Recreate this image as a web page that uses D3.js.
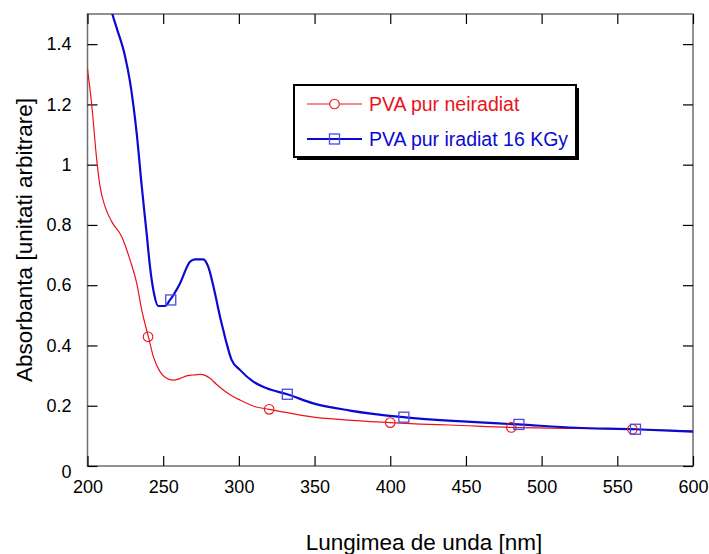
<!DOCTYPE html>
<html>
<head>
<meta charset="utf-8">
<script src="https://cdn.jsdelivr.net/npm/d3@7"></script>
<style>
  html, body { margin: 0; padding: 0; background: #fff; }
  svg { display: block; font-family: "Liberation Sans", Arial, sans-serif; }
</style>
</head>
<body>
<svg id="chart" width="709" height="554"></svg>
<script>
// Absorption spectra of PVA films (wavelength nm, absorbance a.u.)
const seriesNames = ["PVA pur neiradiat", "PVA pur iradiat 16 KGy"];
const seriesColors = ["#e8141a", "#0a0ad0"];

const wavelengthRed = [200, 202.8, 206.1, 208.3, 211.6, 216, 222.6, 228.1, 232.5, 235.8, 240.2, 243.5, 247.9, 252, 256.5, 261, 265.5, 270, 274.3, 278, 280.9, 285, 289.7, 295, 300.7, 309.5, 319.9, 333, 347, 370, 399.8, 420, 439.4, 479.5, 520, 560.5, 600];
const absorbRed = [1.318, 1.198, 1.016, 0.927, 0.861, 0.811, 0.761, 0.684, 0.607, 0.518, 0.429, 0.363, 0.313, 0.292, 0.285, 0.29, 0.299, 0.302, 0.304, 0.3, 0.291, 0.272, 0.252, 0.234, 0.219, 0.199, 0.188, 0.176, 0.164, 0.153, 0.144, 0.139, 0.136, 0.128, 0.125, 0.122, 0.117];

const wavelengthBlue = [208, 212, 216.4, 219.3, 224.8, 228.1, 232.5, 235.8, 239.1, 241.3, 243.5, 246.8, 251.2, 254.5, 261.1, 267.7, 271, 276.5, 279.8, 284.2, 287.5, 289.7, 291.9, 295.2, 300.7, 309.5, 318.4, 332, 349.1, 373.4, 408.6, 450.5, 484.6, 523, 561.6, 600];
const absorbBlue = [1.68, 1.59, 1.5, 1.453, 1.36, 1.275, 1.104, 0.93, 0.77, 0.661, 0.584, 0.531, 0.531, 0.551, 0.606, 0.678, 0.686, 0.686, 0.661, 0.573, 0.496, 0.451, 0.407, 0.352, 0.319, 0.28, 0.258, 0.238, 0.208, 0.184, 0.162, 0.147, 0.138, 0.127, 0.122, 0.114];

// symbol positions along each curve
const markerWlRed = [240, 320, 400, 480, 560];
const markerAbsRed = [0.429, 0.188, 0.144, 0.128, 0.122];
const markerWlBlue = [255, 332, 409, 485, 562];
const markerAbsBlue = [0.551, 0.238, 0.162, 0.138, 0.122];

const xTicks = [200, 250, 300, 350, 400, 450, 500, 550, 600];
const yTicks = [0, 0.2, 0.4, 0.6, 0.8, 1, 1.2, 1.4];

(function drawChart() {
  const svg = d3.select("#chart");
  const plotLeft = 87.5, plotRight = 693, plotTop = 14, plotBottom = 466;

  const x = d3.scaleLinear().domain([200, 600]).range([plotLeft, plotRight]);
  const y = d3.scaleLinear().domain([0, 1.5]).range([plotBottom, plotTop]);

  svg.append("defs").append("clipPath").attr("id", "plot-clip")
    .append("rect").attr("x", plotLeft).attr("y", plotTop)
    .attr("width", plotRight - plotLeft).attr("height", plotBottom - plotTop);

  // frame
  svg.append("rect")
    .attr("x", plotLeft).attr("y", plotTop)
    .attr("width", plotRight - plotLeft).attr("height", plotBottom - plotTop)
    .attr("fill", "none").attr("stroke", "#6e6e6e").attr("stroke-width", 1.5);

  // inward ticks on all four sides
  const tickLen = 10;
  const axisBottom = d3.axisBottom(x).tickValues(xTicks).tickSizeInner(-tickLen).tickSizeOuter(0).tickPadding(14).tickFormat(d3.format("d"));
  const axisTop = d3.axisTop(x).tickValues(xTicks).tickSizeInner(-tickLen).tickSizeOuter(0).tickFormat("");
  const axisLeft = d3.axisLeft(y).tickValues(yTicks).tickSizeInner(-tickLen).tickSizeOuter(0).tickPadding(16)
    .tickFormat(d => d === 0 ? "0" : d3.format(".1f")(d).replace(/\.0$/, ""));
  const axisRight = d3.axisRight(y).tickValues(yTicks).tickSizeInner(-tickLen).tickSizeOuter(0).tickFormat("");

  function styleAxis(g) {
    g.select(".domain").remove();
    g.selectAll(".tick line").attr("stroke", "#000").attr("stroke-width", 1.2);
    g.selectAll(".tick text").attr("fill", "#000").attr("font-size", 18)
      .attr("font-family", "'Liberation Sans', Arial, sans-serif");
  }

  svg.append("g").attr("transform", `translate(0,${plotBottom})`).call(axisBottom).call(styleAxis);
  svg.append("g").attr("transform", `translate(0,${plotTop})`).call(axisTop).call(styleAxis);
  const gl = svg.append("g").attr("transform", `translate(${plotLeft},0)`).call(axisLeft).call(styleAxis);
  gl.selectAll(".tick").filter(d => d === 0).select("text").attr("dy", "0.65em");
  svg.append("g").attr("transform", `translate(${plotRight},0)`).call(axisRight).call(styleAxis);

  // axis titles
  svg.append("text")
    .attr("x", 424).attr("y", 550)
    .attr("text-anchor", "middle").attr("font-size", 22.5).attr("fill", "#000")
    .text("Lungimea de unda [nm]");
  svg.append("text")
    .attr("transform", "translate(32,240) rotate(-90)")
    .attr("text-anchor", "middle").attr("font-size", 22.5).attr("fill", "#000")
    .text("Absorbanta [unitati arbitrare]");

  // curves
  const line = d3.line().x(d => x(d[0])).y(d => y(d[1])).curve(d3.curveMonotoneX);
  const redData = wavelengthRed.map((w, i) => [w, absorbRed[i]]);
  const blueData = wavelengthBlue.map((w, i) => [w, absorbBlue[i]]);

  const plot = svg.append("g").attr("clip-path", "url(#plot-clip)");
  plot.append("path").datum(redData).attr("d", line)
    .attr("fill", "none").attr("stroke", seriesColors[0]).attr("stroke-width", 1.2);
  plot.append("path").datum(blueData).attr("d", line)
    .attr("fill", "none").attr("stroke", seriesColors[1]).attr("stroke-width", 2.2);

  // symbols
  plot.selectAll("circle.mk").data(markerWlRed.map((w, i) => [w, markerAbsRed[i]]))
    .join("circle").attr("class", "mk")
    .attr("cx", d => x(d[0])).attr("cy", d => y(d[1])).attr("r", 4.8)
    .attr("fill", "none").attr("stroke", seriesColors[0]).attr("stroke-width", 1.1);
  plot.selectAll("rect.mk").data(markerWlBlue.map((w, i) => [w, markerAbsBlue[i]]))
    .join("rect").attr("class", "mk")
    .attr("x", d => x(d[0]) - 5).attr("y", d => y(d[1]) - 5)
    .attr("width", 10).attr("height", 10)
    .attr("fill", "none").attr("stroke", "#4a4ae0").attr("stroke-width", 1.3);

  // legend
  const lg = svg.append("g");
  lg.append("rect").attr("x", 297).attr("y", 88).attr("width", 282).attr("height", 72).attr("fill", "#000");
  lg.append("rect").attr("x", 294).attr("y", 85).attr("width", 282).attr("height", 72)
    .attr("fill", "#fff").attr("stroke", "#000").attr("stroke-width", 2);

  const legendRows = [
    { y: 104, color: seriesColors[0], width: 1.2, symbol: "circle" },
    { y: 139, color: seriesColors[1], width: 2.2, symbol: "square" }
  ];
  legendRows.forEach((r, i) => {
    lg.append("line").attr("x1", 307).attr("x2", 362).attr("y1", r.y).attr("y2", r.y)
      .attr("stroke", r.color).attr("stroke-width", r.width);
    if (r.symbol === "circle") {
      lg.append("circle").attr("cx", 334.5).attr("cy", r.y).attr("r", 4.8)
        .attr("fill", "#fff").attr("stroke", r.color).attr("stroke-width", 1.1);
    } else {
      lg.append("rect").attr("x", 329.5).attr("y", r.y - 5).attr("width", 10).attr("height", 10)
        .attr("fill", "none").attr("stroke", "#4a4ae0").attr("stroke-width", 1.3);
    }
    lg.append("text").attr("x", 369).attr("y", r.y).attr("dy", "0.35em")
      .attr("font-size", 19.5).attr("fill", r.color).text(seriesNames[i]);
  });
})();
</script>
</body>
</html>
